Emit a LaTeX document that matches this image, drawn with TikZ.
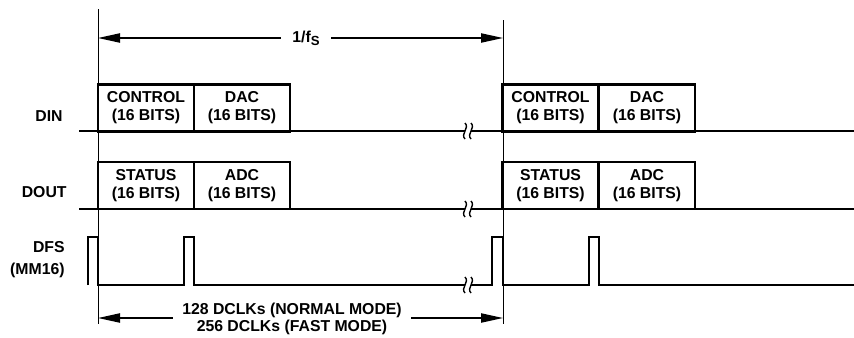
\documentclass[tikz,border=0pt]{standalone}
\usepackage{fontspec}
\setmainfont{Liberation Sans}
\usetikzlibrary{arrows.meta}
\begin{document}
\begin{tikzpicture}[x=0.5pt,y=-0.5pt,
  txt/.style={font=\fontsize{7.9}{9}\selectfont\bfseries, inner sep=0pt, align=center},
  lbl/.style={font=\fontsize{7.9}{11}\selectfont\bfseries, inner sep=0pt, align=right, anchor=east},
  field/.style={draw, line width=1.35pt, minimum width=48pt, minimum height=23.3pt, inner sep=0pt,
    font=\fontsize{7.9}{9}\selectfont\bfseries, align=center},
  sig/.style={line width=1.35pt},
  refl/.style={line width=0.5pt},
  dim/.style={line width=0.75pt, -{Triangle[length=11pt,width=4.6pt]}},
  brk/.style={line width=0.7pt}
]
\useasboundingbox (0,0) rectangle (854,337);

% reference verticals
\coordinate (lt) at (98,9);
\coordinate (lb) at (98,324);
\coordinate (rt) at (503,20);
\coordinate (rb) at (503,324);
\draw[refl] (lt) -- (lb);
\draw[refl] (rt) -- (rb);

% signal labels
\node[lbl] (ldin) at (63,116) {DIN};
\node[lbl] (ldout) at (67,192) {DOUT};
\node[lbl] (ldfs) at (65,260) {DFS\\(MM16)};

% DIN line
\draw[sig] (79,131) -- (465,131);
\draw[sig] (471,131) -- (854,131);
% DOUT line
\draw[sig] (79,209) -- (465,209);
\draw[sig] (471,209) -- (854,209);

% DIN fields
\node[field] (c1) at (146,108) {CONTROL\\(16 BITS)};
\node[field] (d1) at (242,108) {DAC\\(16 BITS)};
\node[field] (c2) at (550.5,108) {CONTROL\\(16 BITS)};
\node[field] (d2) at (647,108) {DAC\\(16 BITS)};
% DOUT fields
\node[field, minimum height=23.6pt] (s1) at (146,185.5) {STATUS\\(16 BITS)};
\node[field, minimum height=23.6pt] (a1) at (242,185.5) {ADC\\(16 BITS)};
\node[field, minimum height=23.6pt] (s2) at (550.5,185.5) {STATUS\\(16 BITS)};
\node[field, minimum height=23.6pt] (a2) at (647,185.5) {ADC\\(16 BITS)};

% DFS
\draw[sig, line join=miter] (88,285) -- (88,237) -- (98,237) -- (98,285) -- (184,285) -- (184,237)
  -- (194,237) -- (194,285) -- (465,285);
\draw[sig, line join=miter] (471,285) -- (492,285) -- (492,237) -- (503,237) -- (503,285) -- (589,285)
  -- (589,237) -- (599,237) -- (599,285) -- (854,285);

% break marks
\foreach \yy in {131,209,285}{
  \foreach \xx in {465,471}{
    \draw[brk] (\xx,\yy-8) .. controls (\xx+5,\yy-3) and (\xx-5,\yy+3) .. (\xx,\yy+8);
  }
}

% 1/fS dimension
\node[txt, inner xsep=5.5pt, anchor=base] (fs) at (306,42) {1/f\raisebox{-1.7pt}{\fontsize{6.6}{7}\selectfont S}};
\coordinate (fl) at (98,38);
\coordinate (fr) at (503,38);
\draw[dim] (fs.west |- fl) -- (fl);
\draw[dim] (fs.east |- fr) -- (fr);

% bottom dimension
\node[txt, inner xsep=4.5pt, font=\fontsize{7.9}{8.5}\selectfont\bfseries] (dc) at (292,318.5) {128 DCLKs (NORMAL MODE)\\256 DCLKs (FAST MODE)};
\coordinate (bl) at (98,318);
\coordinate (br) at (503,318);
\draw[dim] (dc.west |- bl) -- (bl);
\draw[dim] (dc.east |- br) -- (br);
\end{tikzpicture}
\end{document}
